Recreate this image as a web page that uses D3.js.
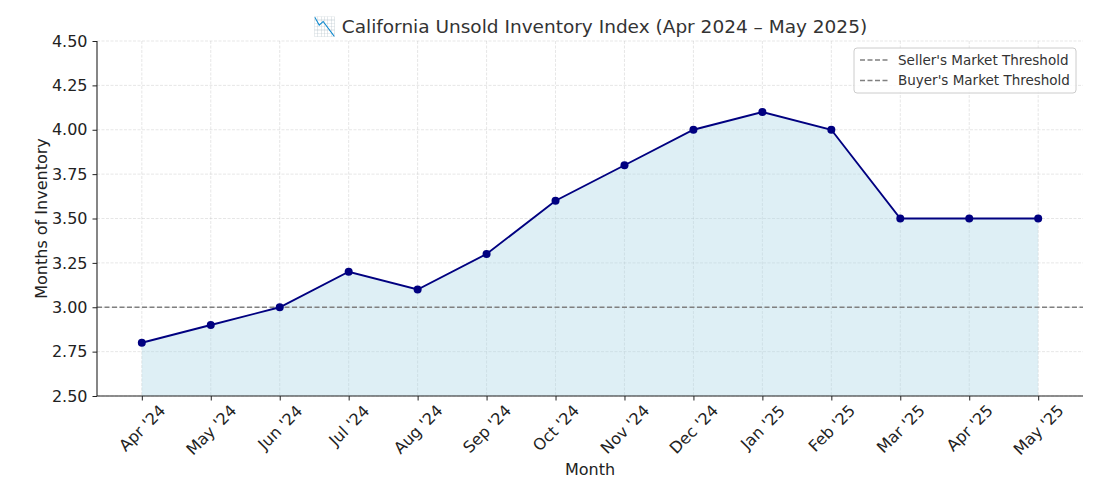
<!DOCTYPE html>
<html><head><meta charset="utf-8">
<script src="https://cdn.jsdelivr.net/npm/d3@7/dist/d3.min.js"></script>
<style>body{margin:0;background:#fff;} text{font-family:"DejaVu Sans",sans-serif;}</style>
</head><body>
<svg id="c" width="1093" height="482"></svg>
<script>
const months = ["Apr '24","May '24","Jun '24","Jul '24","Aug '24","Sep '24","Oct '24","Nov '24","Dec '24","Jan '25","Feb '25","Mar '25","Apr '25","May '25"];
const inventory = [2.8,2.9,3.0,3.2,3.1,3.3,3.6,3.8,4.0,4.1,4.0,3.5,3.5,3.5];
const yTicks = [2.50,2.75,3.00,3.25,3.50,3.75,4.00,4.25,4.50];
const thresholds = [{label:"Seller's Market Threshold", value:3.0},{label:"Buyer's Market Threshold", value:6.0}];
const titleText = "\u{1F4C9} California Unsold Inventory Index (Apr 2024 \u2013 May 2025)";

const svg = d3.select("#c");
const L=97, R=1083, T=41, B=396;
const n = months.length;
const x = d3.scaleLinear().domain([-0.65, n-1+0.65]).range([L,R]);
const y = d3.scaleLinear().domain([2.5,4.5]).range([B,T]);

svg.append("defs").append("clipPath").attr("id","clip").append("rect")
  .attr("x",L).attr("y",T).attr("width",R-L).attr("height",B-T);

// grid
const g = svg.append("g");
g.selectAll(".vg").data(months).enter().append("line")
  .attr("x1",(d,i)=>x(i)).attr("x2",(d,i)=>x(i)).attr("y1",T).attr("y2",B)
  .attr("stroke","#b0b0b0").attr("stroke-opacity",0.4).attr("stroke-width",0.8).attr("stroke-dasharray","3,1.5");
g.selectAll(".hg").data(yTicks).enter().append("line")
  .attr("x1",L).attr("x2",R).attr("y1",d=>y(d)).attr("y2",d=>y(d))
  .attr("stroke","#b0b0b0").attr("stroke-opacity",0.4).attr("stroke-width",0.8).attr("stroke-dasharray","3,1.5");

const plot = svg.append("g").attr("clip-path","url(#clip)");
// area
plot.append("path").datum(inventory)
  .attr("d", d3.area().x((d,i)=>x(i)).y0(y(2.5)).y1(d=>y(d)))
  .attr("fill","#add8e6").attr("fill-opacity",0.4);

// thresholds
plot.selectAll(".th").data(thresholds).enter().append("line")
  .attr("x1",L).attr("x2",R).attr("y1",d=>y(d.value)).attr("y2",d=>y(d.value))
  .attr("stroke","#808080").attr("stroke-width",1.3).attr("stroke-dasharray","5,2.5");

// line
plot.append("path").datum(inventory)
  .attr("d", d3.line().x((d,i)=>x(i)).y(d=>y(d)))
  .attr("fill","none").attr("stroke","#000080").attr("stroke-width",1.9);
plot.selectAll(".pt").data(inventory).enter().append("circle")
  .attr("cx",(d,i)=>x(i)).attr("cy",d=>y(d)).attr("r",4).attr("fill","#000080");

// axes
const yAxis = svg.append("g").attr("transform",`translate(${L},0)`)
  .call(d3.axisLeft(y).tickValues(yTicks).tickFormat(d3.format(".2f")).tickSizeOuter(0).tickSize(4.5).tickPadding(5));
const xAxis = svg.append("g").attr("transform",`translate(0,${B})`)
  .call(d3.axisBottom(x).tickValues(d3.range(n)).tickFormat(i=>months[i]).tickSizeOuter(0).tickSize(4.5));
[yAxis,xAxis].forEach(a=>{
  a.select(".domain").attr("stroke","#222").attr("stroke-width",1.1);
  a.selectAll(".tick line").attr("stroke","#222").attr("stroke-width",1);
  a.selectAll("text").attr("fill","#222").style("font-size","16px").style("font-family","DejaVu Sans");
});
xAxis.select(".domain").attr("d",`M${L},0H${R}`);
yAxis.select(".domain").attr("d",`M0,${B}V${T}`);
// rotate x labels about their center, top of rotated bbox below axis
xAxis.selectAll(".tick text").each(function(){
  const t = d3.select(this);
  t.attr("y",0).attr("dy",null).attr("text-anchor","middle").attr("dominant-baseline","central");
  const bb = this.getBBox();
  const rh = (bb.width + 12) * Math.SQRT1_2;
  const cy = 7.5 + rh/2;
  t.attr("transform",`translate(0,${cy}) rotate(-45)`).attr("y",0);
});

// labels
svg.append("text").attr("x",(L+R)/2).attr("y",475).attr("text-anchor","middle")
  .style("font-size","16px").attr("fill","#222").text("Month");
svg.append("text").attr("transform",`translate(47,${(T+B)/2}) rotate(-90)`).attr("text-anchor","middle")
  .style("font-size","16px").attr("fill","#222").text("Months of Inventory");
svg.append("text").attr("x",(L+R)/2).attr("y",33).attr("text-anchor","middle")
  .style("font-size","18.5px").attr("fill","#333").text(titleText);

// legend
const lg = svg.append("g").attr("transform","translate(854,48)");
lg.append("rect").attr("width",222).attr("height",45).attr("rx",3)
  .attr("fill","#fff").attr("fill-opacity",0.8).attr("stroke","#ccc").attr("stroke-width",1);
thresholds.forEach((d,i)=>{
  const yy = 12 + i*20.5;
  lg.append("line").attr("x1",6).attr("x2",34).attr("y1",yy).attr("y2",yy)
    .attr("stroke","#808080").attr("stroke-width",1.3).attr("stroke-dasharray","5,2.5");
  lg.append("text").attr("x",44).attr("y",yy).attr("dy","0.35em")
    .style("font-size","13.5px").attr("fill","#333").text(d.label);
});
</script>
</body></html>
